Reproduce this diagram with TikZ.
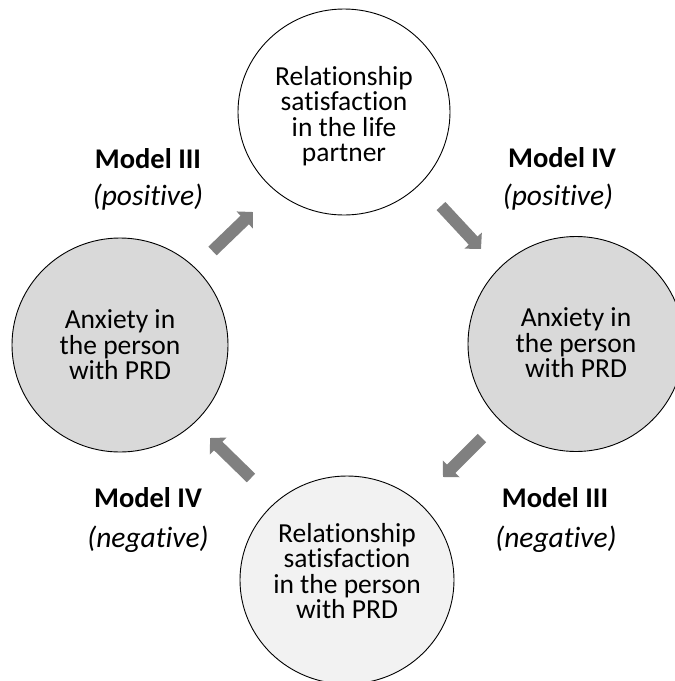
\documentclass[tikz,border=0pt]{standalone}
\usepackage{fontspec}
\setmainfont{Carlito}[Ligatures={NoCommon}]
\usetikzlibrary{arrows.meta,shapes.geometric}
\definecolor{arrowgray}{HTML}{808080}
\definecolor{darkfill}{HTML}{D9D9D9}
\definecolor{lightfill}{HTML}{F2F2F2}
\tikzset{
  bubble/.style={ellipse, draw=black, line width=0.9pt, inner sep=0pt},
  bubbletext/.style={align=center, inner sep=0pt,
    font=\fontsize{27.5}{25.5}\selectfont},
  blockarrow/.style={draw=arrowgray, line width=12pt,
    -{Triangle[length=11.5pt,width=23pt]}, arrowgray},
  modelname/.style={anchor=base, font=\fontsize{28.5}{30}\selectfont\bfseries},
  modelsign/.style={anchor=base, font=\fontsize{29.5}{30}\selectfont\itshape},
}
\begin{document}
\begin{tikzpicture}[x=1pt,y=-1pt]
  \useasboundingbox (0,0) rectangle (675,681);
  \begin{scope}
    \clip (0,0) rectangle (675,681);
    % the four constructs
    \node[bubble, fill=white, minimum width=212pt, minimum height=206pt] (partner) at (344,112) {};
    \node[bubble, fill=darkfill, minimum width=216pt, minimum height=214pt] (anxleft) at (120,345) {};
    \node[bubble, fill=darkfill, minimum width=216pt, minimum height=215pt] (anxright) at (576,344) {};
    \node[bubble, fill=lightfill, minimum width=214pt, minimum height=208pt] (person) at (347,580) {};
  \end{scope}
  \node[bubbletext] (partnertext) at ([yshift=-4pt]partner.center)
    {Relationship\\satisfaction\\in the life\\partner};
  \node[bubbletext] (anxlefttext) at ([yshift=0pt]anxleft.center)
    {Anxiety in\\the person\\with PRD};
  \node[bubbletext] (anxrighttext) at ([yshift=1pt]anxright.center)
    {Anxiety in\\the person\\with PRD};
  \node[bubbletext] (persontext) at ([yshift=9pt]person.center)
    {Relationship\\satisfaction\\in the person\\with PRD};
  % arrow end points
  \coordinate (a1s) at (212.5,251);
  \coordinate (a1e) at (253,212);
  \coordinate (a2s) at (441,206);
  \coordinate (a2e) at (481,249);
  \coordinate (a3s) at (482,438);
  \coordinate (a3e) at (443,477);
  \coordinate (a4s) at (251,478);
  \coordinate (a4e) at (210,438);
  \draw[blockarrow] (a1s) -- (a1e);
  \draw[blockarrow] (a2s) -- (a2e);
  \draw[blockarrow] (a3s) -- (a3e);
  \draw[blockarrow] (a4s) -- (a4e);
  % model labels
  \node[modelname] (tlname) at (148,168) {Model III};
  \node[modelsign] (tlsign) at (148,205) {(positive)};
  \node[modelname] (trname) at (562,167) {Model IV};
  \node[modelsign] (trsign) at (558,205) {(positive)};
  \node[modelname] (blname) at (148,507) {Model IV};
  \node[modelsign] (blsign) at (148,547) {(negative)};
  \node[modelname] (brname) at (555,507) {Model III};
  \node[modelsign] (brsign) at (556,547) {(negative)};
\end{tikzpicture}
\end{document}
